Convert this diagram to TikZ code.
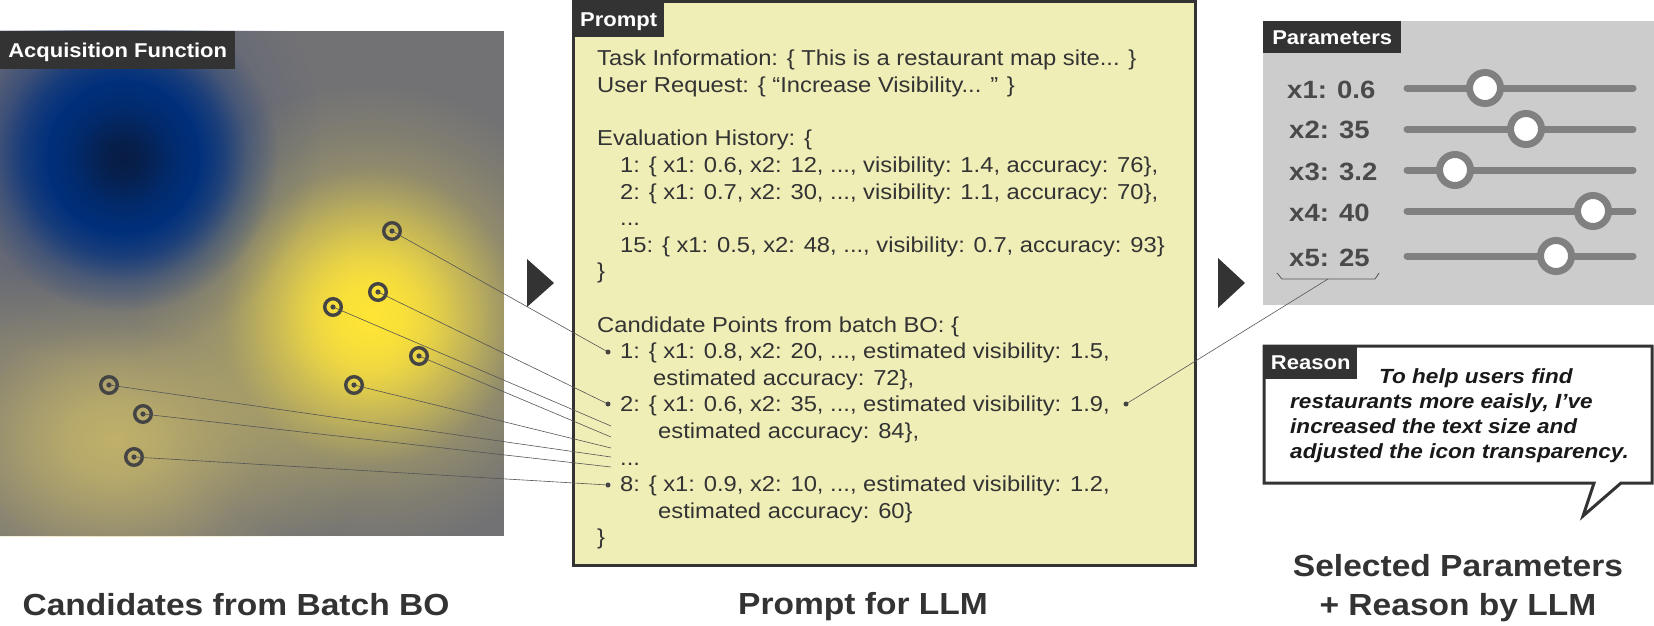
\documentclass[tikz,border=0pt]{standalone}
\usepackage{fontspec}
\setmainfont{Liberation Sans}[FakeStretch=1.1]
\usetikzlibrary{fadings}
\definecolor{boxdark}{HTML}{333333}
\definecolor{txtdark}{HTML}{333333}
\definecolor{promptfill}{HTML}{F0EEB7}
\definecolor{panelgray}{HTML}{CCCCCC}
\definecolor{slidergray}{HTML}{808080}
\definecolor{valgray}{HTML}{4A4A4A}
\definecolor{markgray}{HTML}{444444}
\definecolor{linkgray}{HTML}{555555}
\definecolor{heatgray}{HTML}{727275}
\definecolor{heatkhaki}{HTML}{CDBB68}
\definecolor{heatyellow}{HTML}{DCCA5A}
\definecolor{heatbright}{HTML}{FFE535}
\definecolor{heatbluish}{HTML}{3E4C78}
\definecolor{heatblue}{HTML}{00307C}
\definecolor{heatcore}{HTML}{081D45}

% soft and flat-topped blobs for the heat map
\pgfdeclareradialshading{softmask}{\pgfpointorigin}{%
  color(0bp)=(pgftransparent!0); color(5bp)=(pgftransparent!12);
  color(10bp)=(pgftransparent!39); color(15bp)=(pgftransparent!68);
  color(20bp)=(pgftransparent!87); color(25bp)=(pgftransparent!100);
  color(50bp)=(pgftransparent!100)}
\pgfdeclarefading{soft}{\pgfuseshading{softmask}}
\pgfdeclareradialshading{flatmask}{\pgfpointorigin}{%
  color(0bp)=(pgftransparent!0); color(12bp)=(pgftransparent!0);
  color(16bp)=(pgftransparent!30); color(20bp)=(pgftransparent!72);
  color(25bp)=(pgftransparent!100); color(50bp)=(pgftransparent!100)}
\pgfdeclarefading{flat}{\pgfuseshading{flatmask}}

\begin{document}
\begin{tikzpicture}[x=1pt, y=-1pt,
	tag/.style={fill=boxdark, text=white, inner sep=0pt, anchor=north west,
		font=\fontsize{20}{24}\selectfont\bfseries, text height=14.5pt, text depth=0pt},
	ptext/.style={anchor=base west, inner sep=0pt, text=txtdark, font=\fontsize{21.6}{26}\selectfont},
	rtext/.style={anchor=base west, inner sep=0pt, text=black!90, font=\fontsize{20.5}{25}\selectfont\bfseries\itshape},
	vtext/.style={anchor=base west, inner sep=0pt, text=valgray, font=\fontsize{25}{28}\selectfont\bfseries},
	title/.style={anchor=base, inner sep=0pt, text=txtdark, font=\fontsize{30.5}{36}\selectfont\bfseries},
	cand/.style={circle, draw=markgray, line width=3.4pt, minimum size=16.6pt, inner sep=0pt},
	pin/.style={circle, fill=markgray, inner sep=0pt, minimum size=5pt},
	link/.style={draw=linkgray, line width=0.6pt},
	track/.style={slidergray, line width=7pt, line cap=round},
	knob/.style={circle, draw=slidergray, fill=white, line width=7pt, minimum size=31pt, inner sep=0pt}]
	\useasboundingbox (0,0) rectangle (1654,626);

	% heat map
	\begin{scope}
		\clip (0,31) rectangle (504,536);
		\fill[heatgray] (0,31) rectangle (504,536);
		\fill[heatkhaki, path fading=soft, opacity=0.85] (115,440) ellipse (250pt and 190pt);
		\fill[heatyellow, path fading=soft] (370,318) circle (235pt);
		\fill[heatbright, path fading=soft] (370,316) circle (150pt);
		\fill[heatbluish, path fading=soft] (100,140) circle (220pt);
		\fill[heatblue, path fading=flat] (123,157) circle (155pt);
		\fill[heatcore, path fading=soft] (123,158) circle (78pt);
	\end{scope}
	\node[tag, minimum width=235pt, minimum height=38pt] (acq) at (0,31) {Acquisition Function};

	% prompt box
	\draw[fill=promptfill, draw=boxdark, line width=3pt] (573,2) rectangle (1195,565);
	\node[tag, minimum width=91pt, minimum height=35pt] (plab) at (573,2) {Prompt};
	\node[ptext] (t1) at (597,66) {Task Information: \{ This is a restaurant map site... \}};
	\node[ptext] (t2) at (597,92.6) {User Request: \{ “Increase Visibility... ” \}};
	\node[ptext] (t4) at (597,145.8) {Evaluation History: \{};
	\node[ptext] (t5) at (620,172.4) {1: \{ x1: 0.6, x2: 12, ..., visibility: 1.4, accuracy: 76\},};
	\node[ptext] (t6) at (620,199) {2: \{ x1: 0.7, x2: 30, ..., visibility: 1.1, accuracy: 70\},};
	\node[ptext] (t7) at (620,225.6) {...};
	\node[ptext] (t8) at (620,252.2) {15: \{ x1: 0.5, x2: 48, ..., visibility: 0.7, accuracy: 93\}};
	\node[ptext] (t9) at (597,278.8) {\}};
	\node[ptext] (t11) at (597,332) {Candidate Points from batch BO: \{};
	\node[ptext] (t12) at (620,358.6) {1: \{ x1: 0.8, x2: 20, ..., estimated visibility: 1.5,};
	\node[ptext] (t13) at (653,385.2) {estimated accuracy: 72\},};
	\node[ptext] (t14) at (620,411.8) {2: \{ x1: 0.6, x2: 35, ..., estimated visibility: 1.9,};
	\node[ptext] (t15) at (658,438.4) {estimated accuracy: 84\},};
	\node[ptext] (t16) at (620,465) {...};
	\node[ptext] (t17) at (620,491.6) {8: \{ x1: 0.9, x2: 10, ..., estimated visibility: 1.2,};
	\node[ptext] (t18) at (658,518.2) {estimated accuracy: 60\}};
	\node[ptext] (t19) at (597,544.8) {\}};

	% candidates and their lines into the prompt
	\foreach \n/\x/\y in {c1/392/231, c2/378/292, c3/333/307, c4/419/356,
		c5/354/385, c6/109/385, c7/143/414, c8/134/457} {
		\node[cand] (\n) at (\x,\y) {};
		\fill[markgray] (\n) circle (2.6pt);
	}
	\node[pin] (b1) at (608,352) {};
	\node[pin] (b2) at (608,404) {};
	\node[pin] (b8) at (608,485) {};
	\coordinate (e3) at (611,426);
	\coordinate (e4) at (611,437);
	\coordinate (e5) at (611,448);
	\coordinate (e6) at (611,457);
	\coordinate (e7) at (611,467);
	\foreach \s/\t in {c1/b1, c2/b2, c3/e3, c4/e4, c5/e5, c6/e6, c7/e7, c8/b8}
		\draw[link] (\s.center) -- (\t);

	% arrows
	\fill[boxdark] (527,259) -- (554,283) -- (527,307) -- cycle;
	\fill[boxdark] (1218,258) -- (1245,283) -- (1218,308) -- cycle;

	% parameters panel
	\fill[panelgray] (1263,21) rectangle (1654,305);
	\node[tag, minimum width=138pt, minimum height=32pt] (parlab) at (1263,21) {Parameters};
	\foreach \i/\y/\k in {1/88/1485, 2/129/1526, 3/170/1455, 4/211/1593, 5/256/1556} {
		\draw[track] (1407,\y) -- (1633,\y);
		\node[knob] (k\i) at (\k,\y) {};
	}
	\node[vtext] (v1) at (1287,98) {x1: 0.6};
	\node[vtext] (v2) at (1289,138) {x2: 35};
	\node[vtext] (v3) at (1289,180) {x3: 3.2};
	\node[vtext] (v4) at (1289,221) {x4: 40};
	\node[vtext] (v5) at (1289,266) {x5: 25};
	\draw[linkgray, line width=0.8pt] (1277,273) -- (1282,279) -- (1375,279) -- (1379,273);
	\coordinate (bc) at (1328,279);
	\node[pin] (br) at (1126,404) {};
	\draw[link] (bc) -- (br);

	% reason bubble
	\draw[fill=white, draw=boxdark, line width=3pt, line join=miter]
		(1264,346) -- (1652,346) -- (1652,483) -- (1621,483) -- (1583,516) -- (1594,483) -- (1264,483) -- cycle;
	\node[tag, minimum width=93pt, minimum height=33pt] (rlab) at (1264,346) {Reason};
	\node[rtext] (r1) at (1379,383) {To help users find};
	\node[rtext] (r2) at (1290,408) {restaurants more eaisly, I’ve};
	\node[rtext] (r3) at (1290,433) {increased the text size and};
	\node[rtext] (r4) at (1290,458) {adjusted the icon transparency.};

	% captions
	\node[title] (cap1) at (236,615) {Candidates from Batch BO};
	\node[title] (cap2) at (863,614) {Prompt for LLM};
	\node[title] (cap3) at (1458,576) {Selected Parameters};
	\node[title] (cap4) at (1458,615) {+ Reason by LLM};
\end{tikzpicture}
\end{document}
